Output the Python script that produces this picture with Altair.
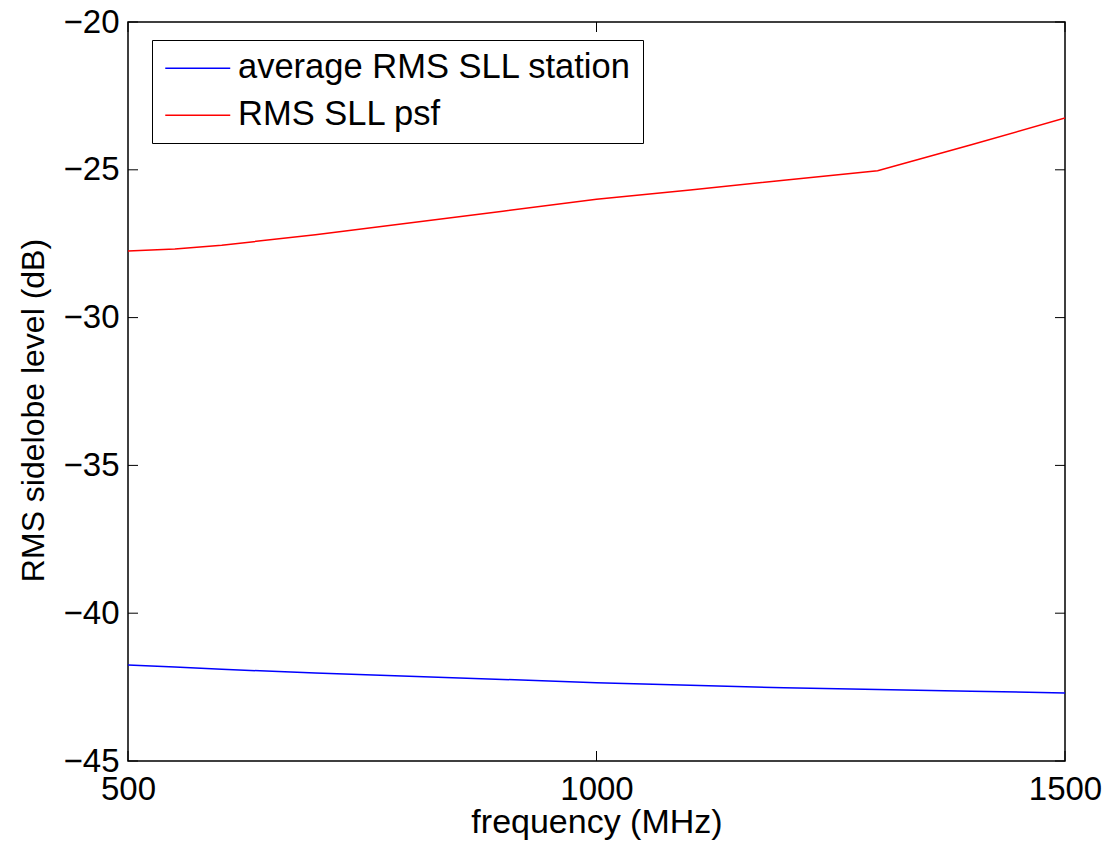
import altair as alt
import pandas as pd

freq = [500, 550, 600, 700, 800, 900, 1000, 1100, 1200, 1300, 1400, 1500]
psf = [-27.75, -27.68, -27.55, -27.2, -26.8, -26.4, -26.0, -25.68, -25.35, -25.03, -24.15, -23.25]
station = [-41.75, -41.82, -41.9, -42.02, -42.13, -42.24, -42.35, -42.44, -42.52, -42.58, -42.64, -42.70]

series_names = ["average RMS SLL station", "RMS SLL psf"]
series_colors = ["#0000ff", "#ff0000"]
x_ticks = [500, 1000, 1500]
y_ticks = [-45, -40, -35, -30, -25, -20]

W, H = 937, 739
FONT = "Liberation Sans"
TICK_FS = 33
XTITLE_FS = 34
YTITLE_FS = 32
LEG_FS = 34.5

rows = []
for f, s, p in zip(freq, station, psf):
    rows.append({"freq": f, "val": s, "series": series_names[0]})
    rows.append({"freq": f, "val": p, "series": series_names[1]})
df = pd.DataFrame(rows)

xs = alt.Scale(domain=[500, 1500], nice=False, zero=False)
ys = alt.Scale(domain=[-45, -20], nice=False, zero=False)

lines = alt.Chart(df).mark_line(strokeWidth=1.5, clip=True).encode(
    x=alt.X("freq:Q", scale=xs,
            axis=alt.Axis(values=x_ticks, title="frequency (MHz)", ticks=False, domain=False,
                          grid=False, labelFontSize=TICK_FS, labelFont=FONT, labelPadding=12,
                          labelFlush=False, labelOverlap=False,
                          labelColor="black", titleFont=FONT, titleFontSize=XTITLE_FS,
                          titleFontWeight="normal", titleColor="black",
                          titleBaseline="alphabetic", titleY=71, format="d")),
    y=alt.Y("val:Q", scale=ys,
            axis=alt.Axis(values=y_ticks, title="RMS sidelobe level (dB)", ticks=False, domain=False,
                          grid=False, labelFontSize=TICK_FS, labelFont=FONT, labelPadding=9,
                          labelFlush=False, labelOverlap=False,
                          labelColor="black", titleFont=FONT, titleFontSize=YTITLE_FS,
                          titleFontWeight="normal", titleColor="black",
                          titleBaseline="alphabetic", titleAlign="center", titleAngle=270,
                          titleX=-85, titleY=388)),
    color=alt.Color("series:N", scale=alt.Scale(domain=series_names, range=series_colors),
                    legend=alt.Legend(orient="none", legendX=24, legendY=18, title=None,
                                      symbolType="M-2,0H2", symbolSize=1056, symbolStrokeWidth=1.5,
                                      symbolOffset=17.5,
                                      labelFontSize=LEG_FS, labelFont=FONT, labelColor="black",
                                      labelOffset=23, strokeColor="black", fillColor="white",
                                      padding=11, rowPadding=12, labelLimit=700)),
)

xt = pd.DataFrame({"x": x_ticks})
yt = pd.DataFrame({"y": y_ticks})
tick_style = dict(color="black", strokeWidth=1)
xb = alt.Chart(xt).mark_rule(**tick_style).encode(x=alt.X("x:Q", scale=xs), y=alt.value(H), y2=alt.value(H - 10))
xtop = alt.Chart(xt).mark_rule(**tick_style).encode(x=alt.X("x:Q", scale=xs), y=alt.value(0), y2=alt.value(10))
yl = alt.Chart(yt).mark_rule(**tick_style).encode(y=alt.Y("y:Q", scale=ys), x=alt.value(0), x2=alt.value(10))
yr = alt.Chart(yt).mark_rule(**tick_style).encode(y=alt.Y("y:Q", scale=ys), x=alt.value(W - 10), x2=alt.value(W))

chart = alt.layer(lines, xb, xtop, yl, yr).properties(
    width=W, height=H,
    background="white",
    autosize=alt.AutoSizeParams(type="none"),
    padding={"left": 128, "top": 22, "right": 44, "bottom": 81},
).configure_view(stroke="#000000", strokeWidth=1.5, strokeOpacity=1)

chart.save("out.html", embed_options={"renderer": "svg", "actions": False})
